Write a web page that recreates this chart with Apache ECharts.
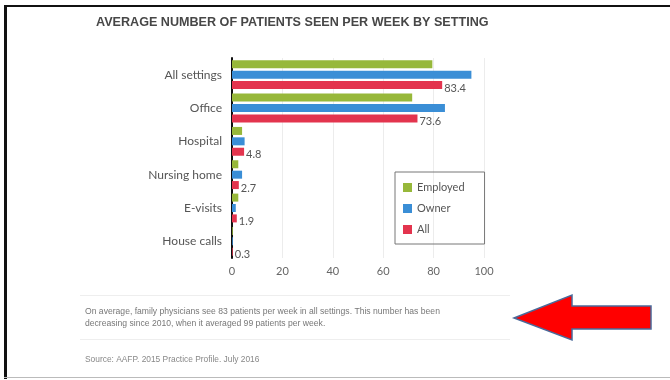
<!DOCTYPE html>
<html><head><meta charset="utf-8">
<script src="https://cdn.jsdelivr.net/npm/echarts@6/dist/echarts.min.js"></script>
<style>html,body{margin:0;padding:0;background:#fff}#c{width:670px;height:380px}</style>
</head><body><div id="c"></div>
<script>
const categories = ['All settings', 'Office', 'Hospital', 'Nursing home', 'E-visits', 'House calls'];
const employed = [79.5, 71.5, 4, 2.5, 2.5, 0.3];
const owner = [95, 84.5, 5, 4, 1.5, 0.3];
const allValues = [83.4, 73.6, 4.8, 2.7, 1.9, 0.3];
const xTicks = [0, 20, 40, 60, 80, 100];
const seriesNames = ['Employed', 'Owner', 'All'];
const titleText = 'AVERAGE NUMBER OF PATIENTS SEEN PER WEEK BY SETTING';
const noteLines = ['On average, family physicians see 83 patients per week in all settings. This number has been', 'decreasing since 2010, when it averaged 99 patients per week.'];
const sourceText = 'Source: AAFP. 2015 Practice Profile. July 2016';

const colors = ['#97b83a', '#3a8ed6', '#e3344e'];
const font = 'Lato, "Open Sans", sans-serif';
const chart = echarts.init(document.getElementById('c'));
const mk = (name, data, i) => ({
  name, type: 'bar', data, barWidth: 8, barGap: '30%',
  itemStyle: { color: colors[i] },
  label: i === 2 ? { show: true, position: 'right', distance: 2, offset: [0, 3], color: '#555', fontSize: 11, fontFamily: font } : { show: false }
});
chart.setOption({
  animation: false,
  title: { text: titleText, left: 91, top: 11, textStyle: { fontSize: 12.6, fontWeight: 'bold', color: '#474747', fontFamily: 'Liberation Sans, Arial, sans-serif' } },
  legend: {
    orient: 'vertical', left: 395, top: 172, data: seriesNames,
    itemWidth: 9, itemHeight: 9, itemGap: 10, icon: 'rect',
    borderColor: '#777', borderWidth: 1, padding: [10, 20, 9, 8],
    textStyle: { fontSize: 11, color: '#555', fontFamily: font }
  },
  grid: { left: 232, right: 186, top: 58, bottom: 122 },
  xAxis: {
    type: 'value', min: xTicks[0], max: xTicks[xTicks.length - 1], interval: 20,
    axisLine: { show: false }, axisTick: { show: false },
    axisLabel: { color: '#666', fontSize: 11, fontFamily: font, margin: 8 },
    splitLine: { lineStyle: { color: '#ececec' } }
  },
  yAxis: {
    type: 'category', data: categories, inverse: true,
    axisLine: { lineStyle: { color: '#111', width: 2 } }, axisTick: { show: false },
    axisLabel: { color: '#555', fontSize: 12, fontFamily: font, margin: 10 }
  },
  series: [mk(seriesNames[0], employed, 0), mk(seriesNames[1], owner, 1), mk(seriesNames[2], allValues, 2)],
  graphic: [
    { type: 'rect', shape: { x: 5, y: 5, width: 670, height: 2 }, style: { fill: '#111' } },
    { type: 'rect', shape: { x: 4, y: 5, width: 3, height: 374 }, style: { fill: '#111' } },
    { type: 'rect', shape: { x: 4, y: 377, width: 670, height: 1 }, style: { fill: '#bbb' } },
    { type: 'rect', shape: { x: 80, y: 295, width: 430, height: 1 }, style: { fill: '#eee' } },
    { type: 'rect', shape: { x: 80, y: 339, width: 430, height: 1 }, style: { fill: '#eee' } },
    { type: 'text', left: 85, top: 306, style: { text: noteLines.join('\n'), fill: '#777', fontSize: 8.6, lineHeight: 12, fontFamily: 'Liberation Sans, Arial, sans-serif' } },
    { type: 'text', left: 85, top: 356, style: { text: sourceText, fill: '#888', fontSize: 8.4, fontFamily: 'Liberation Sans, Arial, sans-serif' } },
    { type: 'polygon', shape: { points: [[514, 318], [572, 295], [572, 306], [651, 306], [651, 329], [572, 329], [572, 340]] }, style: { fill: '#ff0000', stroke: '#4a6a9a', lineWidth: 1.5 } }
  ]
});
</script></body></html>
